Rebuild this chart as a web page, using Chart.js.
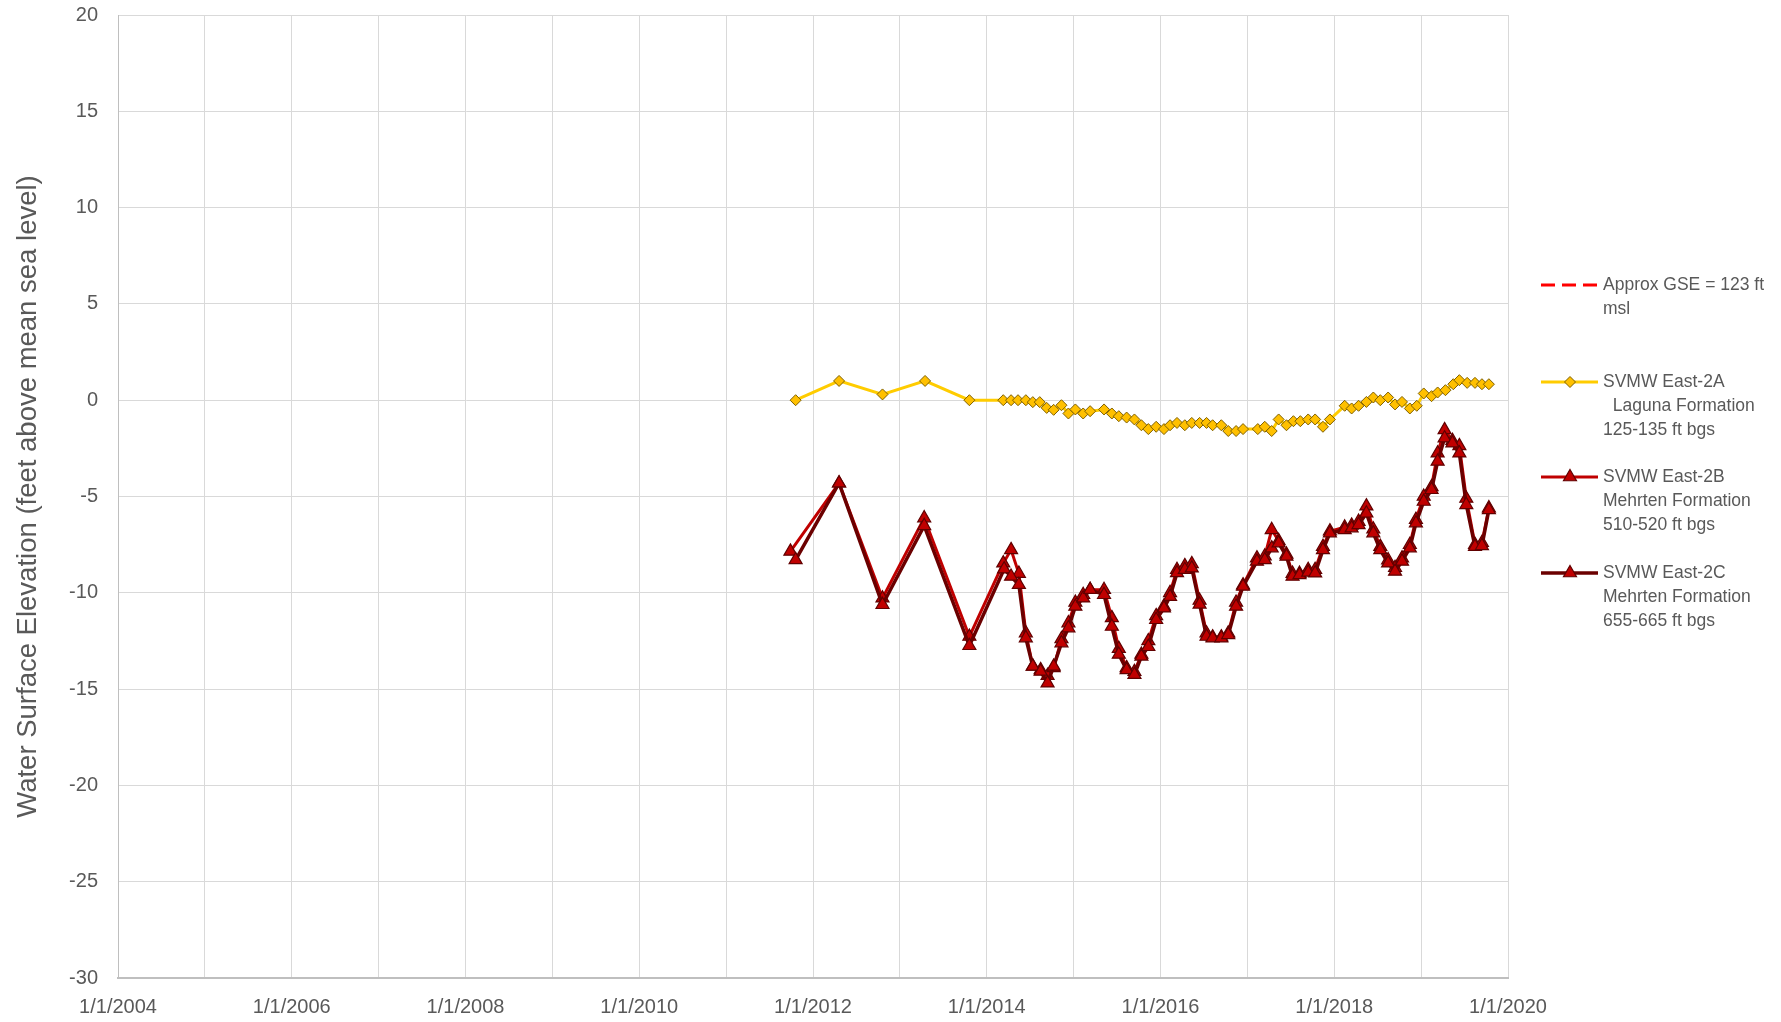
<!DOCTYPE html>
<html>
<head>
<meta charset="utf-8">
<script src="https://cdn.jsdelivr.net/npm/chart.js@4.4.1/dist/chart.umd.min.js"></script>
<style>
  html, body { margin: 0; padding: 0; background: #ffffff; }
  #wrap { width: 1781px; height: 1022px; }
</style>
</head>
<body>
<div id="wrap"><canvas id="well-chart" width="1781" height="1022"></canvas></div>
<script>
// Measurement dates are decimal years, values are feet above msl
let gseDates = [2004, 2020];
let gseValues = [123, 123];

let east2aDates = [2011.80, 2012.30, 2012.80, 2013.29, 2013.80, 2014.19, 2014.28, 2014.36, 2014.45, 2014.53,
    2014.61, 2014.69, 2014.77, 2014.86, 2014.94, 2015.02, 2015.11, 2015.19, 2015.35, 2015.44, 2015.52, 2015.61,
    2015.70, 2015.78, 2015.86, 2015.95, 2016.04, 2016.11, 2016.19, 2016.28, 2016.36, 2016.45, 2016.53, 2016.60,
    2016.70, 2016.78, 2016.87, 2016.95, 2017.12, 2017.20, 2017.28, 2017.36, 2017.45, 2017.53, 2017.61, 2017.70,
    2017.78, 2017.87, 2017.95, 2018.12, 2018.20, 2018.28, 2018.37, 2018.45, 2018.53, 2018.62, 2018.70, 2018.78,
    2018.87, 2018.95, 2019.03, 2019.12, 2019.19, 2019.28, 2019.37, 2019.44, 2019.53, 2019.62, 2019.70, 2019.78
];
let east2aValues = [0, 1.0, 0.3, 1.0, 0, 0, 0, 0, 0, -0.1,
    -0.1, -0.4, -0.5, -0.26, -0.69, -0.48, -0.69, -0.57, -0.48, -0.69, -0.83, -0.9,
    -1.0, -1.3, -1.5, -1.38, -1.5, -1.3, -1.18, -1.3, -1.18, -1.18, -1.18, -1.3,
    -1.3, -1.6, -1.6, -1.5, -1.5, -1.38, -1.6, -1.0, -1.3, -1.09, -1.09, -1.0,
    -1.0, -1.38, -1.0, -0.29, -0.43, -0.29, -0.09, 0.14, 0, 0.14, -0.22, -0.09,
    -0.43, -0.29, 0.35, 0.21, 0.4, 0.52, 0.83, 1.04, 0.9, 0.9, 0.83, 0.83
];

let east2bDates = [2011.74, 2012.30, 2012.80, 2013.28, 2013.80, 2014.19, 2014.28, 2014.37, 2014.45, 2014.53,
    2014.62, 2014.70, 2014.77, 2014.86, 2014.94, 2015.02, 2015.11, 2015.19, 2015.35, 2015.44, 2015.52, 2015.61,
    2015.70, 2015.78, 2015.86, 2015.95, 2016.04, 2016.11, 2016.19, 2016.28, 2016.36, 2016.45, 2016.53, 2016.60,
    2016.70, 2016.78, 2016.87, 2016.95, 2017.11, 2017.20, 2017.28, 2017.36, 2017.45, 2017.52, 2017.60, 2017.70,
    2017.78, 2017.87, 2017.95, 2018.12, 2018.20, 2018.28, 2018.37, 2018.45, 2018.53, 2018.62, 2018.70, 2018.78,
    2018.87, 2018.94, 2019.03, 2019.12, 2019.19, 2019.27, 2019.36, 2019.44, 2019.52, 2019.62, 2019.70, 2019.78
];
let east2bValues = [-7.85, -4.31, -10.28, -6.12, -12.27, -8.46, -7.77, -9.0, -12.09, -13.82,
    -14.0, -14.3, -13.9, -12.4, -11.57, -10.5, -10.1, -9.84, -9.84, -11.3, -12.9, -13.9,
    -14.1, -13.2, -12.5, -11.2, -10.7, -10.0, -8.8, -8.6, -8.5, -10.4, -12.1, -12.3,
    -12.3, -12.1, -10.5, -9.6, -8.2, -8.1, -6.73, -7.3, -8.0, -9.0, -9.0, -8.8,
    -8.8, -7.6, -6.8, -6.6, -6.5, -6.3, -5.5, -6.7, -7.6, -8.3, -8.7, -8.2,
    -7.5, -6.2, -5.0, -4.5, -2.75, -1.54, -2.1, -2.37, -5.1, -7.5, -7.4, -5.6
];

let east2cDates = [2011.80, 2012.30, 2012.80, 2013.28, 2013.80, 2014.20, 2014.28, 2014.37, 2014.45, 2014.53,
    2014.62, 2014.70, 2014.77, 2014.86, 2014.94, 2015.02, 2015.11, 2015.19, 2015.35, 2015.44, 2015.52, 2015.61,
    2015.70, 2015.78, 2015.86, 2015.95, 2016.04, 2016.11, 2016.19, 2016.28, 2016.36, 2016.45, 2016.53, 2016.60,
    2016.70, 2016.78, 2016.87, 2016.95, 2017.11, 2017.20, 2017.28, 2017.36, 2017.45, 2017.52, 2017.60, 2017.70,
    2017.78, 2017.87, 2017.95, 2018.12, 2018.20, 2018.28, 2018.37, 2018.45, 2018.53, 2018.62, 2018.70, 2018.78,
    2018.87, 2018.94, 2019.03, 2019.12, 2019.19, 2019.27, 2019.36, 2019.44, 2019.52, 2019.62, 2019.70, 2019.78
];
let east2cValues = [-8.29, -4.31, -10.62, -6.52, -12.75, -8.77, -9.15, -9.58, -12.35, -13.82,
    -14.08, -14.69, -13.82, -12.61, -11.83, -10.71, -10.28, -9.84, -10.1, -11.75, -13.2, -14.0,
    -14.25, -13.3, -12.8, -11.4, -10.8, -10.2, -8.97, -8.8, -8.72, -10.6, -12.27, -12.35,
    -12.35, -12.18, -10.71, -9.67, -8.37, -8.29, -7.68, -7.42, -8.11, -9.15, -9.07, -8.94,
    -8.98, -7.77, -6.9, -6.73, -6.64, -6.47, -5.87, -6.9, -7.77, -8.46, -8.89, -8.37,
    -7.68, -6.38, -5.26, -4.65, -3.18, -1.97, -2.23, -2.75, -5.43, -7.6, -7.56, -5.69
];

// Legend text, one array of lines per series
let legendLabels = [
    ['Approx GSE = 123 ft', 'msl'],
    ['SVMW East-2A', '  Laguna Formation', '125-135 ft bgs'],
    ['SVMW East-2B', 'Mehrten Formation', '510-520 ft bgs'],
    ['SVMW East-2C', 'Mehrten Formation', '655-665 ft bgs']
];

let yTicksMin = -30, yTicksMax = 20, yStep = 5;
let xMin = 2004, xMax = 2020;

const FONT = '"Liberation Sans", Arial, sans-serif';
const TEXT = '#595959';

function toPoints(dates, values) {
    return dates.map((d, i) => ({ x: d, y: values[i] }));
}

// Draws the multi-line legend to the right of the plot
const sideLegend = {
    id: 'sideLegend',
    afterDraw(chart) {
        const ctx = chart.ctx;
        const rowsY = [285, 382, 477, 573];
        ctx.save();
        chart.data.datasets.forEach((ds, i) => {
            const y = rowsY[i];
            ctx.strokeStyle = ds.borderColor;
            ctx.lineWidth = ds.borderWidth;
            ctx.setLineDash(ds.borderDash || []);
            ctx.beginPath();
            ctx.moveTo(1541, y);
            ctx.lineTo(1598, y);
            ctx.stroke();
            ctx.setLineDash([]);
            if (ds.pointRadius > 0) {
                ctx.fillStyle = ds.pointBackgroundColor;
                ctx.strokeStyle = ds.pointBorderColor;
                ctx.lineWidth = ds.pointBorderWidth;
                Chart.helpers.drawPoint(ctx, {
                    pointStyle: ds.pointStyle, rotation: 0,
                    radius: ds.pointRadius, borderWidth: ds.pointBorderWidth
                }, 1570, y);
            }
            ctx.fillStyle = TEXT;
            ctx.font = '17.5px ' + FONT;
            ctx.textBaseline = 'middle';
            ctx.textAlign = 'left';
            legendLabels[i].forEach((line, j) => {
                ctx.fillText(line, 1603, y + j * 24);
            });
        });
        ctx.restore();
    }
};

const whiteBg = {
    id: 'whiteBg',
    beforeDraw(chart) {
        const ctx = chart.ctx;
        ctx.save();
        ctx.fillStyle = '#ffffff';
        ctx.fillRect(0, 0, chart.width, chart.height);
        ctx.restore();
    }
};

let wellChart = new Chart(document.getElementById('well-chart'), {
    type: 'line',
    data: {
        datasets: [
            {
                label: legendLabels[0].join(' '),
                data: toPoints(gseDates, gseValues),
                borderColor: '#FF0000',
                borderWidth: 3,
                borderDash: [14, 7],
                pointRadius: 0,
                order: 3
            },
            {
                label: legendLabels[1].join(' '),
                data: toPoints(east2aDates, east2aValues),
                borderColor: '#FFCC00',
                borderWidth: 3,
                pointStyle: 'rectRot',
                pointRadius: 5.5,
                pointBackgroundColor: '#FFC000',
                pointBorderColor: '#7F6000',
                pointBorderWidth: 1,
                order: 2
            },
            {
                label: legendLabels[2].join(' '),
                data: toPoints(east2bDates, east2bValues),
                borderColor: '#C00000',
                borderWidth: 3,
                pointStyle: 'triangle',
                pointRadius: 7.5,
                pointBackgroundColor: '#C00000',
                pointBorderColor: '#600000',
                pointBorderWidth: 1.2,
                order: 1
            },
            {
                label: legendLabels[3].join(' '),
                data: toPoints(east2cDates, east2cValues),
                borderColor: '#6B0000',
                borderWidth: 3.5,
                pointStyle: 'triangle',
                pointRadius: 7.5,
                pointBackgroundColor: '#C00000',
                pointBorderColor: '#600000',
                pointBorderWidth: 1.2,
                order: 0
            }
        ]
    },
    options: {
        responsive: false,
        animation: false,
        layout: { padding: { top: 15, right: 273, bottom: 0, left: 0 } },
        plugins: {
            legend: { display: false },
            tooltip: { enabled: false },
            title: { display: false }
        },
        elements: { line: { tension: 0 } },
        scales: {
            x: {
                type: 'linear',
                min: xMin,
                max: xMax,
                afterFit(scale) {
                    scale.height = 44;
                    scale.paddingLeft = 0;
                    scale.paddingRight = 0;
                },
                afterBuildTicks(scale) {
                    let ticks = [];
                    for (let v = xMin; v <= xMax; v++) ticks.push({ value: v });
                    scale.ticks = ticks;
                },
                ticks: {
                    autoSkip: false,
                    maxRotation: 0,
                    padding: 17,
                    color: TEXT,
                    font: { family: FONT, size: 20 },
                    callback: (v) => (v % 2 === 0 ? '1/1/' + v : '')
                },
                grid: { color: '#d9d9d9', lineWidth: 1, drawTicks: false },
                border: { color: '#bfbfbf', width: 2 }
            },
            y: {
                min: yTicksMin,
                max: yTicksMax,
                afterFit(scale) {
                    scale.width = 118;
                    scale.paddingTop = 0;
                    scale.paddingBottom = 0;
                },
                ticks: {
                    stepSize: yStep,
                    padding: 20,
                    color: TEXT,
                    font: { family: FONT, size: 20 }
                },
                grid: { color: '#d9d9d9', lineWidth: 1, drawTicks: false },
                border: { color: '#bfbfbf', width: 1 },
                title: {
                    display: true,
                    text: 'Water Surface Elevation (feet above mean sea level)',
                    color: TEXT,
                    font: { family: FONT, size: 27.5 },
                    padding: { top: 12, bottom: 0 }
                }
            }
        }
    },
    plugins: [whiteBg, sideLegend]
});
</script>
</body>
</html>
